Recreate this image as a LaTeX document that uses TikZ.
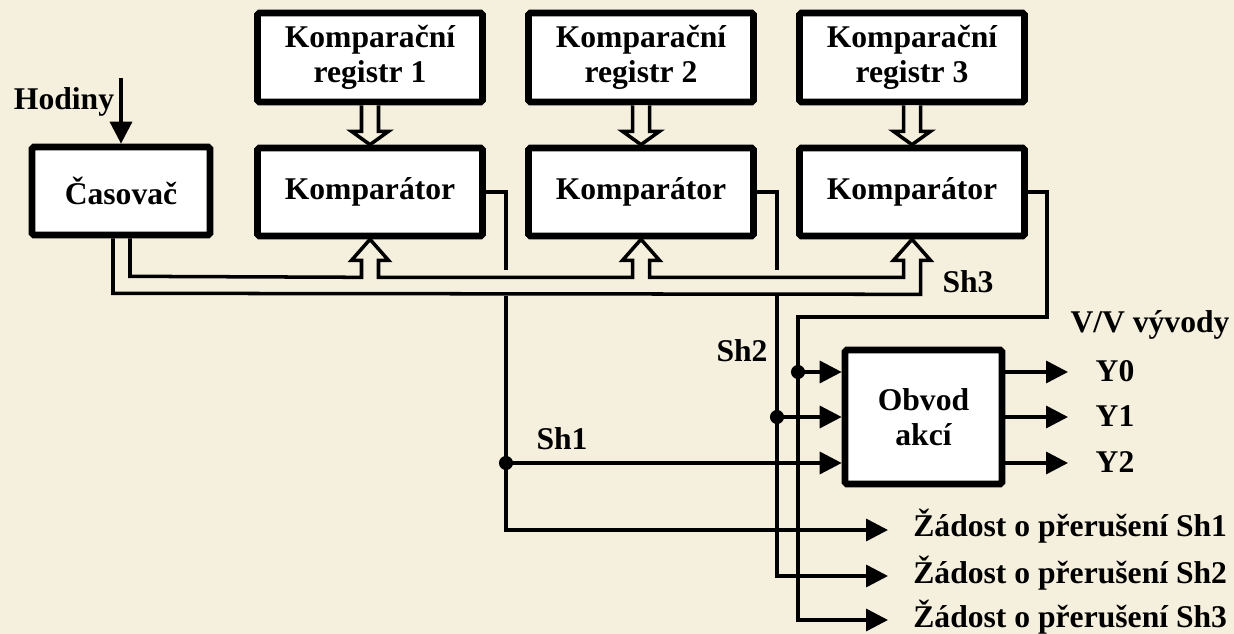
\documentclass[tikz,border=0pt]{standalone}
\usepackage{fontspec}
\setmainfont{Liberation Serif}
\usetikzlibrary{arrows.meta,calc}
\definecolor{bg}{RGB}{245,239,222}
\tikzset{
  box/.style={draw=black, fill=white, line width=3.8pt, rounded corners=1pt, align=center, inner sep=2pt},
  wire/.style={line width=2pt},
  arr/.style={wire, -{Triangle[length=12.5pt,width=12.5pt]}},
  hol/.style={line width=2pt, fill=bg, line join=miter},
  dot/.style={circle, fill=black, inner sep=0pt, minimum size=8pt},
  lbl/.style={inner sep=0pt},
  every node/.style={font=\fontsize{18}{20}\selectfont\bfseries}
}
\begin{document}
\begin{tikzpicture}[x=0.02cm, y=-0.02cm]
\fill[bg] (0,0) rectangle (1234,634);
\useasboundingbox (0,0) rectangle (1234,634);

% boxes
\node[box, minimum width=3.56cm, minimum height=1.76cm] (cas) at (121,191) {Časovač};
\node[box, minimum width=4.5cm, minimum height=1.78cm] (r1) at (370,57.5) {Komparační\\registr 1};
\node[box, minimum width=4.5cm, minimum height=1.78cm] (r2) at (641,57.5) {Komparační\\registr 2};
\node[box, minimum width=4.5cm, minimum height=1.78cm] (r3) at (912,57.5) {Komparační\\registr 3};
\node[box, minimum width=4.5cm, minimum height=1.76cm] (k1) at (370,192) {Komparátor};
\node[box, minimum width=4.5cm, minimum height=1.76cm] (k2) at (641,192) {Komparátor};
\node[box, minimum width=4.5cm, minimum height=1.76cm] (k3) at (912,192) {Komparátor};
\node[box, minimum width=3.14cm, minimum height=2.68cm] (ob) at (923.5,417) {Obvod\\akcí};

% clock input
\coordinate (hin) at (121,78);
\node[lbl, anchor=base] (hod) at (64,110) {Hodiny};
\draw[arr] (hin) -- (cas.north);

% hollow arrows register -> comparator
\foreach \i in {1,2,3}{
  \draw[hol] ($(r\i.south)+(-8.5,0)$) -- ($(r\i.south)+(-8.5,26)$) -- ($(r\i.south)+(-18.5,26)$)
    -- (k\i.north) -- ($(r\i.south)+(18.5,26)$) -- ($(r\i.south)+(8.5,26)$) -- ($(r\i.south)+(8.5,0)$);
}

% bus from timer to comparators (hollow)
\draw[hol, fill=none]
  ($(cas.south)+(9,0)$) -- ($(cas.south)+(9,38)$)
  -- ($(k1.south)+(-8.5,38)$) -- ($(k1.south)+(-8.5,21)$) -- ($(k1.south)+(-18.5,21)$) -- (k1.south)
  -- ($(k1.south)+(18.5,21)$) -- ($(k1.south)+(8.5,21)$) -- ($(k1.south)+(8.5,38)$)
  -- ($(k2.south)+(-8.5,38)$) -- ($(k2.south)+(-8.5,21)$) -- ($(k2.south)+(-18.5,21)$) -- (k2.south)
  -- ($(k2.south)+(18.5,21)$) -- ($(k2.south)+(8.5,21)$) -- ($(k2.south)+(8.5,38)$)
  -- ($(k3.south)+(-8.5,38)$) -- ($(k3.south)+(-8.5,21)$) -- ($(k3.south)+(-18.5,21)$) -- (k3.south)
  -- ($(k3.south)+(18.5,21)$) -- ($(k3.south)+(8.5,21)$) -- ($(k3.south)+(8.5,55)$)
  -- ($(cas.south)+(-8,55)$) -- ($(cas.south)+(-8,0)$);

% free ends
\coordinate (z1) at (888,530);
\coordinate (z2) at (888,576);
\coordinate (z3) at (888,620);
\coordinate (y0) at (1068,372);
\coordinate (y1) at (1068,417);
\coordinate (y2) at (1068,463);

% Sh1
\draw[wire] (k1.east) -| (506,270);
\draw[arr] (506,296) |- (z1);
\node[dot] (d1) at (506,463) {};
\draw[arr] (d1.center) -- (ob.west |- d1);
% Sh2
\draw[wire] (k2.east) -| (777,270);
\draw[arr] (777,296) |- (z2);
\node[dot] (d2) at (777,417) {};
\draw[arr] (d2.center) -- (ob.west |- d2);
% Sh3
\draw[arr] (k3.east) -| (1047,317) -| (798,620) -- (z3);
\node[dot] (d3) at (798,372) {};
\draw[arr] (d3.center) -- (ob.west |- d3);

% outputs
\draw[arr] (ob.east |- y0) -- (y0);
\draw[arr] (ob.east |- y1) -- (y1);
\draw[arr] (ob.east |- y2) -- (y2);

% labels
\node[lbl, anchor=base] (lsh1) at (562,450) {Sh1};
\node[lbl, anchor=base] (lsh2) at (742,362) {Sh2};
\node[lbl, anchor=base] (lsh3) at (968,293) {Sh3};
\node[lbl, anchor=base] (lvv) at (1150,333) {V/V vývody};
\node[lbl, anchor=base] (ly0) at (1115,382) {Y0};
\node[lbl, anchor=base] (ly1) at (1115,427) {Y1};
\node[lbl, anchor=base] (ly2) at (1115,473) {Y2};
\node[lbl, anchor=base west] (lz1) at (913,537) {Žádost o přerušení Sh1};
\node[lbl, anchor=base west] (lz2) at (913,583) {Žádost o přerušení Sh2};
\node[lbl, anchor=base west] (lz3) at (913,627) {Žádost o přerušení Sh3};
\end{tikzpicture}
\end{document}
